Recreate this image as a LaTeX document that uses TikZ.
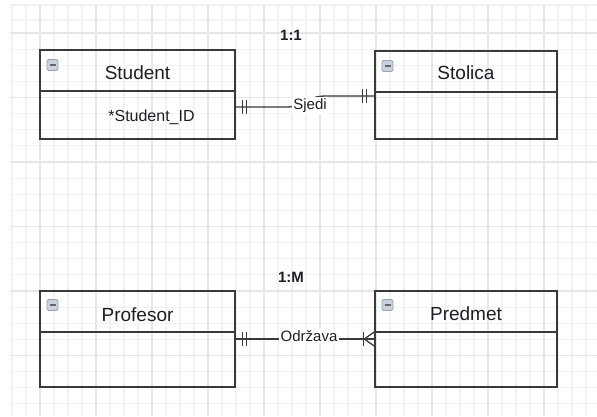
\documentclass[tikz,border=0pt]{standalone}
\usepackage{fontspec}
\setmainfont{Liberation Sans}
\usetikzlibrary{calc}
\definecolor{gridminor}{HTML}{F2F2F2}
\definecolor{gridmajor}{HTML}{E6E6E6}
\definecolor{edge}{HTML}{3A3A3A}
\definecolor{txt}{HTML}{1E1E28}
\definecolor{iconfill}{HTML}{C9D1DC}
\definecolor{iconline}{HTML}{98A4B4}
\tikzset{
  minorgrid/.style={draw=gridminor, line width=1.2pt},
  majorgrid/.style={draw=gridmajor, line width=1.7pt},
  entity/.style={draw=edge, line width=1.5pt, rectangle, inner sep=0pt},
  headline/.style={draw=edge, line width=1.5pt},
  etitle/.style={font=\fontsize{19}{22}\selectfont, text=txt, anchor=base, inner sep=0pt},
  attr/.style={font=\fontsize{16}{19}\selectfont, text=txt, anchor=base, inner sep=0pt},
  rel/.style={draw=edge, line width=1.3pt},
  rellabel/.style={font=\fontsize{15}{18}\selectfont, text=txt, fill=white, anchor=base, inner sep=1.5pt},
  card/.style={font=\bfseries\fontsize{15}{18}\selectfont, text=txt, anchor=base, inner sep=0pt},
  icon/.style={draw=iconline, fill=iconfill, rounded corners=1.5pt, minimum width=11pt, minimum height=11pt, line width=0.8pt, inner sep=0pt,
    path picture={\draw[line width=1.8pt, black!60] ([xshift=-3pt]path picture bounding box.center) -- ([xshift=3pt]path picture bounding box.center);}},
  tickmark/.style={draw=edge, line width=1.3pt}
}
\begin{document}
\begin{tikzpicture}[x=1pt,y=-1pt]
\useasboundingbox (0,0) rectangle (597,416);
\fill[white] (0,0) rectangle (597,416);
% grid
\foreach \x in {12,26,...,596} \draw[minorgrid] (\x,5) -- (\x,416);
\draw[minorgrid] (10,5) -- (597,5);
\draw[minorgrid] (10,20) -- (597,20);
\foreach \i in {0,...,23} \draw[minorgrid] (10,{33+16.125*\i}) -- (597,{33+16.125*\i});
\foreach \x in {40,96,...,544} \draw[majorgrid] (\x,5) -- (\x,416);
\foreach \i in {0,...,5} \draw[majorgrid] (10,{33+64.5*\i}) -- (597,{33+64.5*\i});

% entities
\node[entity, minimum width=195pt, minimum height=89pt] (student) at (137.5,94.5) {};
\node[entity, minimum width=182pt, minimum height=88pt] (stolica) at (466,95) {};
\node[entity, minimum width=195pt, minimum height=96pt] (profesor) at (137.5,339) {};
\node[entity, minimum width=182pt, minimum height=96pt] (predmet) at (466,339) {};

\foreach \e in {student,stolica,profesor,predmet}
  \draw[headline] ([yshift=-41.5pt]\e.north west) -- ([yshift=-41.5pt]\e.north east);

% icons
\node[icon] (studentI) at (52.5,65) {};
\node[icon] (stolicaI) at (387.5,66) {};
\node[icon] (profesorI) at (52.5,305) {};
\node[icon] (predmetI) at (387.5,305) {};

% titles
\node[etitle] (studentT) at (137.5,79) {Student};
\node[etitle] (stolicaT) at (466,79) {Stolica};
\node[etitle] (profesorT) at (137.5,321.5) {Profesor};
\node[etitle] (predmetT) at (466,320.5) {Predmet};
\node[attr] (studentA) at (151.5,121.5) {*Student\_ID};

% cardinality titles
\node[card] (c11) at (291,40.5) {1:1};
\node[card] (c1m) at (291,282.5) {1:M};

% relation 1:1
\coordinate (s1) at ([yshift=-12.5pt]student.east);
\coordinate (t1) at ([yshift=-1pt]stolica.west);
\draw[rel] (s1) -- ++(50,0) .. controls ++(22,0) and ($(t1)+(-70,0)$) .. ($(t1)+(-48,0)$) -- (t1);
\draw[tickmark] ($(s1)+(7,-7)$) -- ($(s1)+(7,7)$);
\draw[tickmark] ($(s1)+(11,-7)$) -- ($(s1)+(11,7)$);
\draw[tickmark] ($(t1)+(-12,-7)$) -- ($(t1)+(-12,7)$);
\draw[tickmark] ($(t1)+(-8,-7)$) -- ($(t1)+(-8,7)$);
\node[rellabel] (sjedi) at (310,109) {Sjedi};

% relation 1:M
\draw[rel] (profesor.east) -- (predmet.west);
\draw[tickmark] ($(profesor.east)+(7,-7)$) -- ($(profesor.east)+(7,7)$);
\draw[tickmark] ($(profesor.east)+(11,-7)$) -- ($(profesor.east)+(11,7)$);
\draw[tickmark] ($(predmet.west)+(-11,-7)$) -- ($(predmet.west)+(-11,7)$);
\draw[tickmark] ($(predmet.west)+(-10,0)$) -- ($(predmet.west)+(0,-7)$);
\draw[tickmark] ($(predmet.west)+(-10,0)$) -- ($(predmet.west)+(0,7)$);
\node[rellabel] (odrzava) at (309,341) {Održava};
\end{tikzpicture}
\end{document}
